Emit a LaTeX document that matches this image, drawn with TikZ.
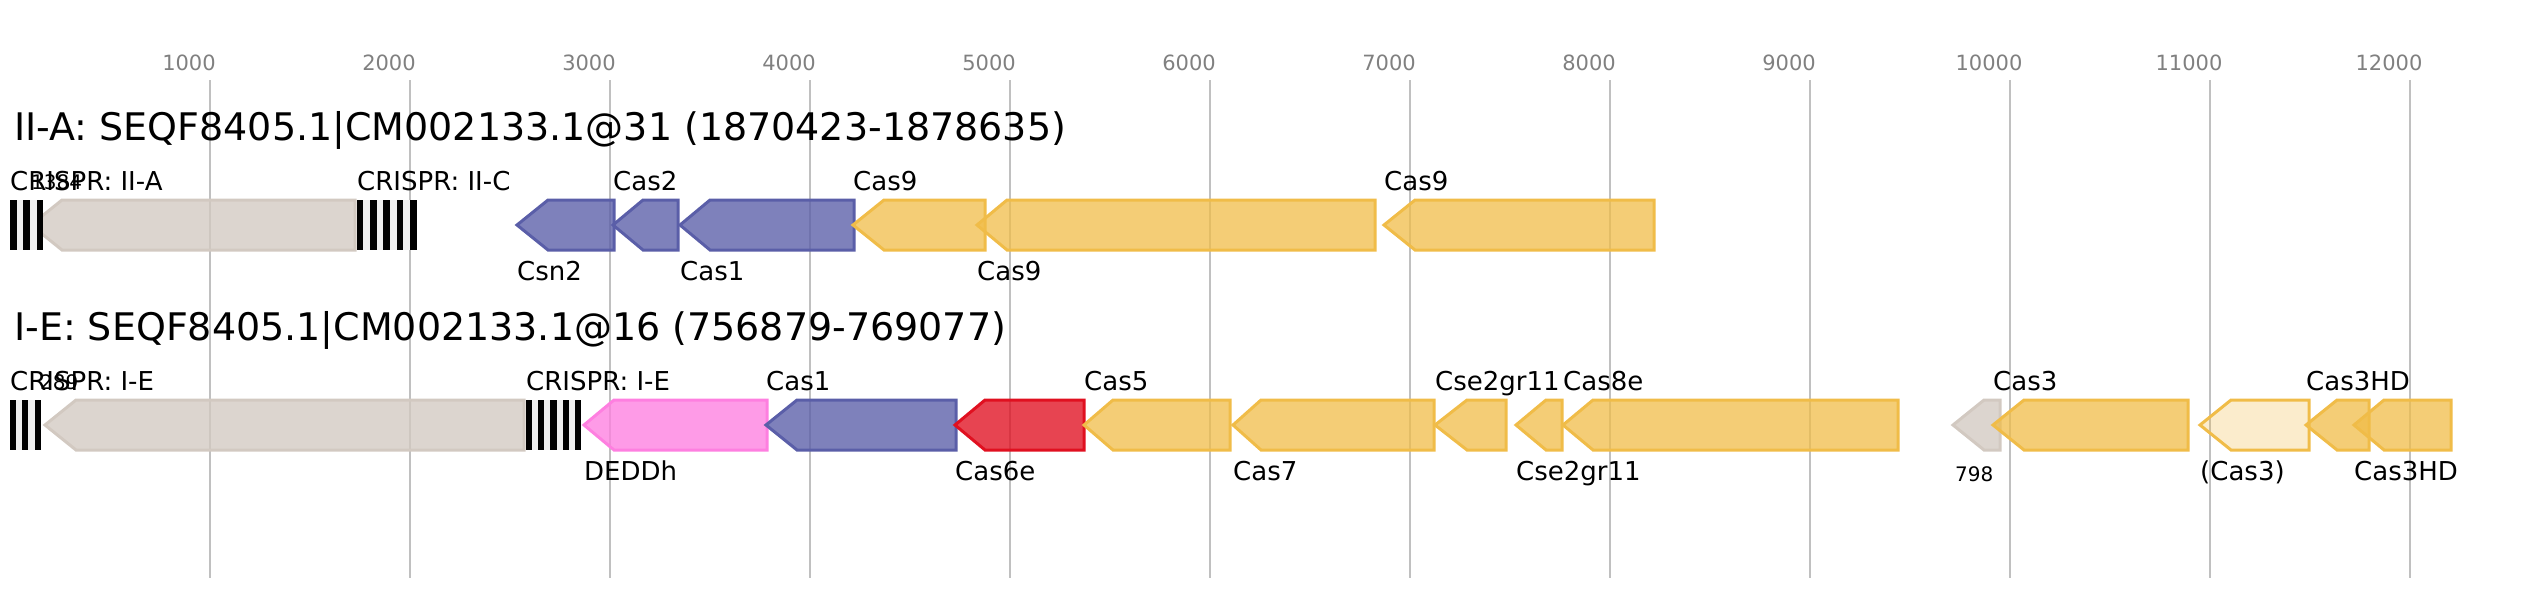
\documentclass[tikz,border=0pt]{standalone}
\usepackage{fontspec}
\setmainfont{DejaVu Sans}
\definecolor{ggray}{RGB}{210,201,193}
\definecolor{gblue}{RGB}{90,94,168}
\definecolor{gyellow}{RGB}{240,188,72}
\definecolor{gpink}{RGB}{254,127,224}
\definecolor{gred}{RGB}{224,16,32}
\definecolor{gridgray}{RGB}{192,192,192}
\definecolor{axisgray}{RGB}{128,128,128}
\definecolor{crlight}{RGB}{238,238,238}
\newcommand{\genearrow}[5]{% style, tip, body, right, top
  \draw[gene,#1] (#4,#5) -- (#3,#5) -- (#2,#5+25) -- (#3,#5+50) -- (#4,#5+50) -- cycle;}
\newcommand{\crisprarray}[4]{% x0, segment width, n black bars, top
  \fill[crlight] (#1,#4) rectangle ({#1+(2*#3-1)*#2},#4+50);
  \foreach \kk in {1,...,#3}{\fill[black] ({#1+2*(\kk-1)*#2},#4) rectangle ({#1+(2*\kk-1)*#2},#4+50);}}
\begin{document}
\begin{tikzpicture}[x=1pt,y=-1pt,
  gene/.style={line width=3pt, line join=miter, fill opacity=0.78},
  graygene/.style={draw=ggray, fill=ggray},
  bluegene/.style={draw=gblue, fill=gblue},
  yellowgene/.style={draw=gyellow, fill=gyellow, fill opacity=0.75},
  lightgene/.style={draw=gyellow, fill=gyellow, fill opacity=0.28},
  pinkgene/.style={draw=gpink, fill=gpink},
  redgene/.style={draw=gred, fill=gred},
  gridline/.style={draw=gridgray, line width=2pt},
  lab/.style={inner sep=0pt, anchor=base west, font=\fontsize{26}{30}\selectfont},
  numlab/.style={inner sep=0pt, anchor=base west, font=\fontsize{20}{24}\selectfont},
  axislab/.style={inner sep=0pt, anchor=base, text=axisgray, font=\fontsize{21}{25}\selectfont},
  titlelab/.style={inner sep=0pt, anchor=base west, font=\fontsize{38}{44}\selectfont}]
\useasboundingbox (0,0) rectangle (2540,600);
% grid and axis
\foreach \k in {1,...,12}{
  \pgfmathtruncatemacro{\bp}{1000*\k}
  \draw[gridline] ({10+200*\k},80) -- ({10+200*\k},578);
  \node[axislab] (ax\k) at ({10+200*\k-21},70) {\bp};
}
% titles
\node[titlelab] (t1) at (14,140) {II-A: SEQF8405.1|CM002133.1@31 (1870423-1878635)};
\node[titlelab] (t2) at (14,340) {I-E: SEQF8405.1|CM002133.1@16 (756879-769077)};
% row 1 genes
\genearrow{graygene}{31}{62}{355}{200}
\genearrow{bluegene}{517}{548}{614}{200}
\genearrow{bluegene}{613}{643}{678}{200}
\genearrow{bluegene}{680}{710}{854}{200}
\genearrow{yellowgene}{853}{884}{985}{200}
\genearrow{yellowgene}{977}{1007}{1375}{200}
\genearrow{yellowgene}{1384}{1415}{1654}{200}
\crisprarray{10}{6.67}{3}{200}
\crisprarray{356.7}{6.67}{5}{200}
% row 1 labels
\node[lab] (c1) at (10,190) {CRISPR: II-A};
\node[numlab] (n1) at (31,189) {1384};
\node[lab] (c2) at (357,190) {CRISPR: II-C};
\node[lab] (g1) at (517,280) {Csn2};
\node[lab] (g2) at (613,190) {Cas2};
\node[lab] (g3) at (680,280) {Cas1};
\node[lab] (g4) at (853,190) {Cas9};
\node[lab] (g5) at (977,280) {Cas9};
\node[lab] (g6) at (1384,190) {Cas9};
% row 2 genes
\genearrow{graygene}{45}{76}{524}{400}
\genearrow{pinkgene}{584}{614}{767}{400}
\genearrow{bluegene}{766}{797}{956}{400}
\genearrow{redgene}{955}{985}{1084}{400}
\genearrow{yellowgene}{1084}{1113}{1230}{400}
\genearrow{yellowgene}{1233}{1261}{1434}{400}
\genearrow{yellowgene}{1435}{1467}{1506}{400}
\genearrow{yellowgene}{1516}{1546}{1562}{400}
\genearrow{yellowgene}{1563}{1593}{1898}{400}
\genearrow{graygene}{1953}{1984}{2000}{400}
\genearrow{yellowgene}{1993}{2024}{2188}{400}
\genearrow{lightgene}{2200}{2231}{2309}{400}
\genearrow{yellowgene}{2306}{2337}{2369}{400}
\genearrow{yellowgene}{2354}{2384}{2451}{400}
\crisprarray{10}{6.14}{3}{400}
\crisprarray{526}{6.11}{5}{400}
% row 2 labels
\node[lab] (c3) at (10,390) {CRISPR: I-E};
\node[numlab] (n2) at (40,389) {289};
\node[lab] (c4) at (526,390) {CRISPR: I-E};
\node[lab] (h1) at (584,480) {DEDDh};
\node[lab] (h2) at (766,390) {Cas1};
\node[lab] (h3) at (955,480) {Cas6e};
\node[lab] (h4) at (1084,390) {Cas5};
\node[lab] (h5) at (1233,480) {Cas7};
\node[lab] (h6) at (1435,390) {Cse2gr11};
\node[lab] (h7) at (1516,480) {Cse2gr11};
\node[lab] (h8) at (1563,390) {Cas8e};
\node[numlab] (n3) at (1955,481) {798};
\node[lab] (h9) at (1993,390) {Cas3};
\node[lab] (h10) at (2200,480) {(Cas3)};
\node[lab] (h11) at (2306,390) {Cas3HD};
\node[lab] (h12) at (2354,480) {Cas3HD};
\end{tikzpicture}
\end{document}
